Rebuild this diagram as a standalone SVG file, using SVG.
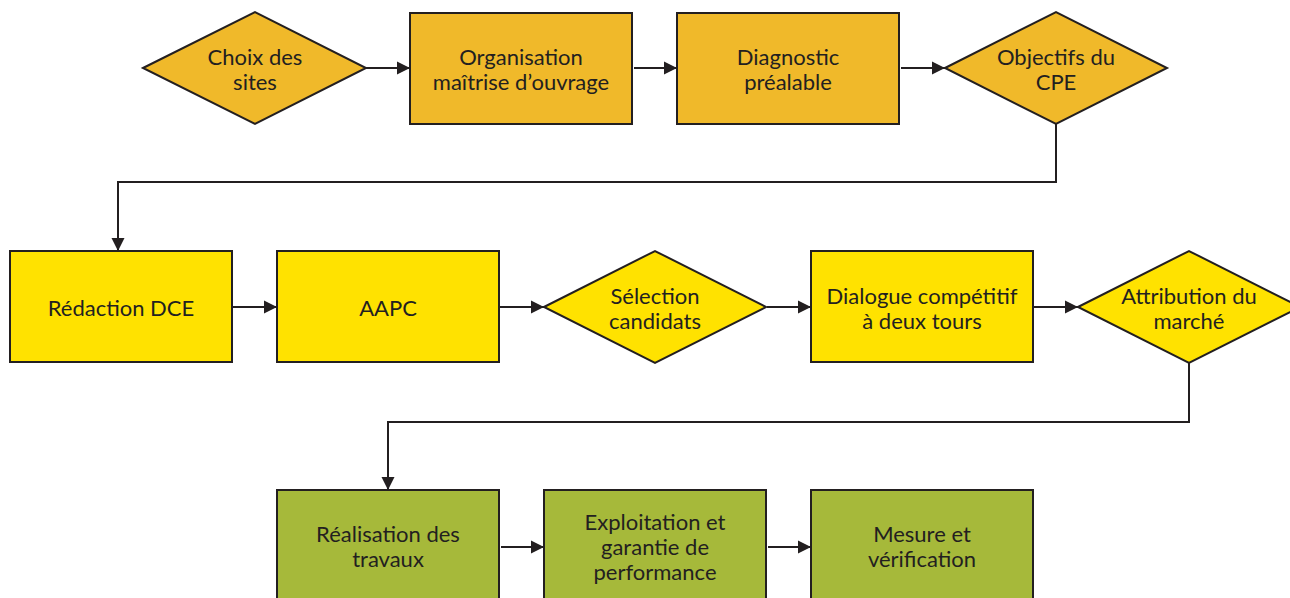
<svg xmlns="http://www.w3.org/2000/svg" width="1290" height="598" viewBox="0 0 1290 598">
  <style>
    .shape { stroke: #231f20; stroke-width: 2; }
    .orange { fill: #f0b92a; }
    .yellow { fill: #ffe200; }
    .green { fill: #a6b93a; }
    .label { font-family: Lato, "Open Sans", sans-serif; font-size: 22px; fill: #231f20; text-anchor: middle; }
    .link { fill: none; stroke: #231f20; stroke-width: 2; }
  </style>
  <defs>
    <marker id="arrow" markerWidth="14" markerHeight="14" refX="13" refY="7" orient="auto" markerUnits="userSpaceOnUse">
      <path d="M0,0.5 L13,7 L0,13.5 Z" fill="#231f20"/>
    </marker>
  </defs>
  <rect width="1290" height="598" fill="#ffffff"/>

  <!-- row 1 -->
  <g id="choix-des-sites">
    <polygon class="shape orange" points="143,68 255,12 366,68 255,124"/>
    <text class="label" x="255" y="65">Choix des</text>
    <text class="label" x="255" y="90">sites</text>
  </g>
  <g id="organisation">
    <rect class="shape orange" x="410" y="13" width="222" height="111"/>
    <text class="label" x="521" y="65">Organisation</text>
    <text class="label" x="521" y="90">maîtrise d’ouvrage</text>
  </g>
  <g id="diagnostic">
    <rect class="shape orange" x="677" y="13" width="222" height="111"/>
    <text class="label" x="788" y="65">Diagnostic</text>
    <text class="label" x="788" y="90">préalable</text>
  </g>
  <g id="objectifs-cpe">
    <polygon class="shape orange" points="945,68 1056,12 1167,68 1056,124"/>
    <text class="label" x="1056" y="65">Objectifs du</text>
    <text class="label" x="1056" y="90">CPE</text>
  </g>

  <!-- row 2 -->
  <g id="redaction-dce">
    <rect class="shape yellow" x="10" y="251" width="222" height="111"/>
    <text class="label" x="121" y="316">Rédaction DCE</text>
  </g>
  <g id="aapc">
    <rect class="shape yellow" x="277" y="251" width="222" height="111"/>
    <text class="label" x="388" y="316">AAPC</text>
  </g>
  <g id="selection-candidats">
    <polygon class="shape yellow" points="544,307 655,251 766,307 655,363"/>
    <text class="label" x="655" y="304">Sélection</text>
    <text class="label" x="655" y="329">candidats</text>
  </g>
  <g id="dialogue-competitif">
    <rect class="shape yellow" x="811" y="251" width="222" height="111"/>
    <text class="label" x="922" y="304">Dialogue compétitif</text>
    <text class="label" x="922" y="329">à deux tours</text>
  </g>
  <g id="attribution-marche">
    <polygon class="shape yellow" points="1078,307 1189,251 1300,307 1189,363"/>
    <text class="label" x="1189" y="304">Attribution du</text>
    <text class="label" x="1189" y="329">marché</text>
  </g>

  <!-- row 3 -->
  <g id="realisation-travaux">
    <rect class="shape green" x="277" y="490" width="222" height="120"/>
    <text class="label" x="388" y="542">Réalisation des</text>
    <text class="label" x="388" y="567">travaux</text>
  </g>
  <g id="exploitation">
    <rect class="shape green" x="544" y="490" width="222" height="120"/>
    <text class="label" x="655" y="530">Exploitation et</text>
    <text class="label" x="655" y="555">garantie de</text>
    <text class="label" x="655" y="580">performance</text>
  </g>
  <g id="mesure-verification">
    <rect class="shape green" x="811" y="490" width="222" height="120"/>
    <text class="label" x="922" y="542">Mesure et</text>
    <text class="label" x="922" y="567">vérification</text>
  </g>

  <!-- connectors -->
  <g id="connectors">
    <line class="link" x1="366" y1="68" x2="410" y2="68" marker-end="url(#arrow)"/>
    <line class="link" x1="634" y1="68" x2="677" y2="68" marker-end="url(#arrow)"/>
    <line class="link" x1="901" y1="68" x2="945" y2="68" marker-end="url(#arrow)"/>
    <polyline class="link" points="1056,124 1056,182 118,182 118,251" marker-end="url(#arrow)"/>
    <line class="link" x1="233" y1="307" x2="277" y2="307" marker-end="url(#arrow)"/>
    <line class="link" x1="500" y1="307" x2="544" y2="307" marker-end="url(#arrow)"/>
    <line class="link" x1="767" y1="307" x2="811" y2="307" marker-end="url(#arrow)"/>
    <line class="link" x1="1034" y1="307" x2="1078" y2="307" marker-end="url(#arrow)"/>
    <polyline class="link" points="1189,363 1189,422 388,422 388,490" marker-end="url(#arrow)"/>
    <line class="link" x1="501" y1="547" x2="544" y2="547" marker-end="url(#arrow)"/>
    <line class="link" x1="768" y1="547" x2="811" y2="547" marker-end="url(#arrow)"/>
  </g>
</svg>
